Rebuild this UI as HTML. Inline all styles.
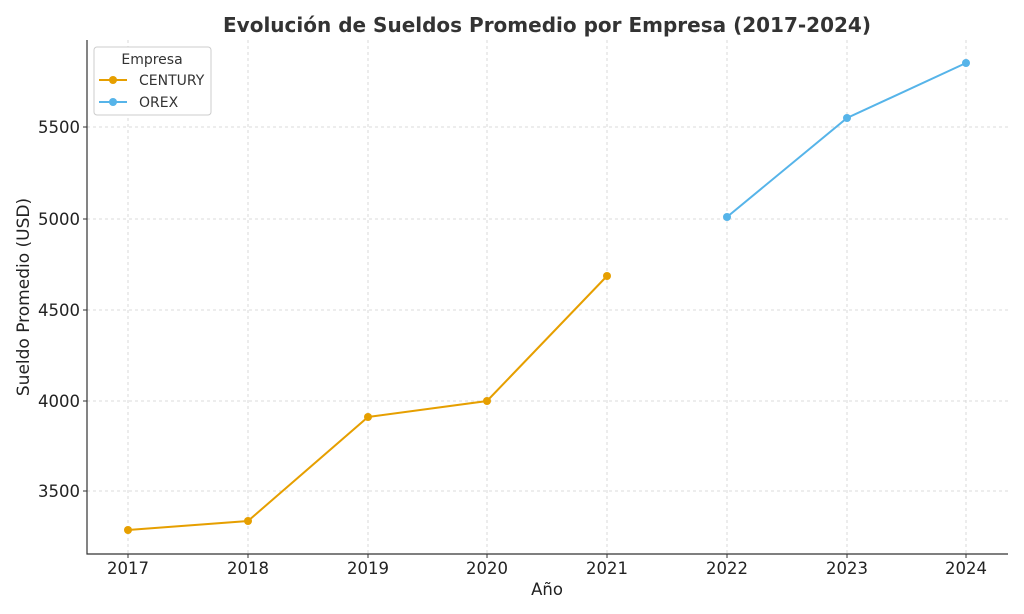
<!DOCTYPE html>
<html><head><meta charset="utf-8"><style>body{margin:0;background:#fff}svg{display:block}</style></head>
<body>
<svg width="1024" height="614" xmlns="http://www.w3.org/2000/svg" font-family="'DejaVu Sans','Liberation Sans',sans-serif">
<rect width="1024" height="614" fill="#fff"/>
<g stroke="#d0d0d0" stroke-width="0.8" stroke-dasharray="3,3">
<line x1="128" y1="40" x2="128" y2="554"/><line x1="248" y1="40" x2="248" y2="554"/><line x1="368" y1="40" x2="368" y2="554"/><line x1="487" y1="40" x2="487" y2="554"/><line x1="607" y1="40" x2="607" y2="554"/><line x1="727" y1="40" x2="727" y2="554"/><line x1="847" y1="40" x2="847" y2="554"/><line x1="966" y1="40" x2="966" y2="554"/>
<line x1="87" y1="127" x2="1008" y2="127"/><line x1="87" y1="219" x2="1008" y2="219"/><line x1="87" y1="310" x2="1008" y2="310"/><line x1="87" y1="401" x2="1008" y2="401"/><line x1="87" y1="491" x2="1008" y2="491"/>
</g>
<path d="M87 40V554H1008" fill="none" stroke="#333" stroke-width="1.2"/>
<g stroke="#333"><line x1="128" y1="554" x2="128" y2="558"/><line x1="248" y1="554" x2="248" y2="558"/><line x1="368" y1="554" x2="368" y2="558"/><line x1="487" y1="554" x2="487" y2="558"/><line x1="607" y1="554" x2="607" y2="558"/><line x1="727" y1="554" x2="727" y2="558"/><line x1="847" y1="554" x2="847" y2="558"/><line x1="966" y1="554" x2="966" y2="558"/>
<line x1="83" y1="127" x2="87" y2="127"/><line x1="83" y1="219" x2="87" y2="219"/><line x1="83" y1="310" x2="87" y2="310"/><line x1="83" y1="401" x2="87" y2="401"/><line x1="83" y1="491" x2="87" y2="491"/></g>
<g font-size="16.5" fill="#222" text-anchor="middle">
<text x="128" y="574">2017</text><text x="248" y="574">2018</text><text x="368" y="574">2019</text><text x="487" y="574">2020</text><text x="607" y="574">2021</text><text x="727" y="574">2022</text><text x="847" y="574">2023</text><text x="966" y="574">2024</text></g>
<g font-size="16.5" fill="#222" text-anchor="end">
<text x="80" y="133">5500</text><text x="80" y="225">5000</text><text x="80" y="316">4500</text><text x="80" y="407">4000</text><text x="80" y="497">3500</text></g>
<text x="547" y="595" font-size="16.5" fill="#222" text-anchor="middle">Año</text>
<text transform="translate(29,297) rotate(-90)" font-size="17" fill="#222" text-anchor="middle">Sueldo Promedio (USD)</text>
<text x="547" y="32" font-size="20" font-weight="bold" fill="#333" text-anchor="middle">Evolución de Sueldos Promedio por Empresa (2017-2024)</text>
<polyline points="128,530 248,521 368,417 487,401 607,276" fill="none" stroke="#e69f00" stroke-width="2"/>
<g fill="#e69f00"><circle cx="128" cy="530" r="4"/><circle cx="248" cy="521" r="4"/><circle cx="368" cy="417" r="4"/><circle cx="487" cy="401" r="4"/><circle cx="607" cy="276" r="4"/></g>
<polyline points="727,217 847,118 966,63" fill="none" stroke="#56b4e9" stroke-width="2"/>
<g fill="#56b4e9"><circle cx="727" cy="217" r="4"/><circle cx="847" cy="118" r="4"/><circle cx="966" cy="63" r="4"/></g>
<rect x="94" y="47" width="117" height="68" rx="3" fill="#fff" stroke="#ccc"/>
<text x="152" y="64" font-size="14" fill="#333" text-anchor="middle">Empresa</text>
<line x1="99" y1="80" x2="127" y2="80" stroke="#e69f00" stroke-width="2"/><circle cx="113" cy="80" r="4" fill="#e69f00"/>
<text x="139" y="85" font-size="14" fill="#333">CENTURY</text>
<line x1="99" y1="102" x2="127" y2="102" stroke="#56b4e9" stroke-width="2"/><circle cx="113" cy="102" r="4" fill="#56b4e9"/>
<text x="139" y="107" font-size="14" fill="#333">OREX</text>
</svg>
</body></html>
